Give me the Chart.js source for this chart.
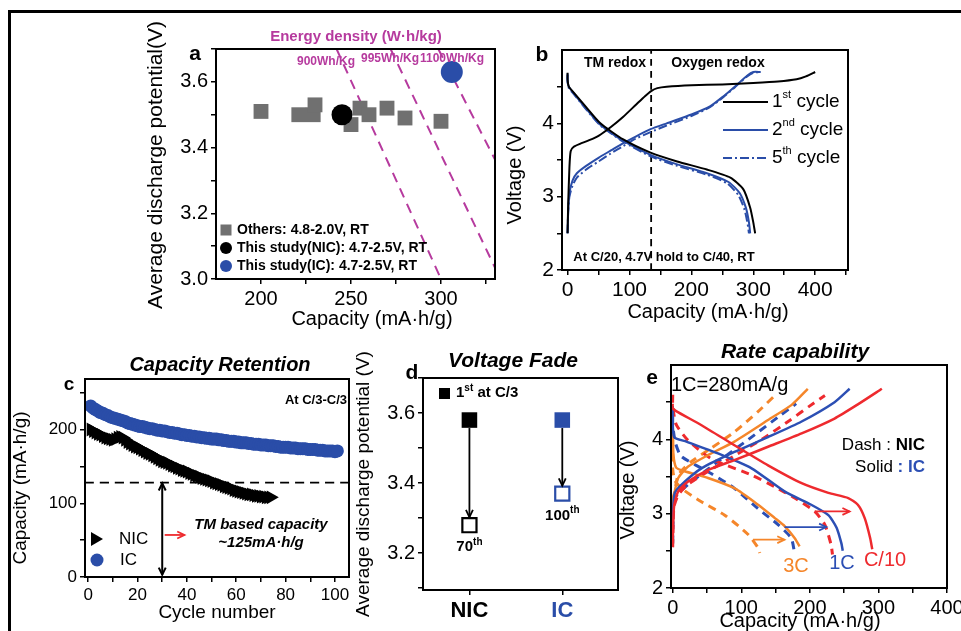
<!DOCTYPE html>
<html>
<head>
<meta charset="utf-8">
<script src="https://cdn.jsdelivr.net/npm/chart.js@4.4.0/dist/chart.umd.min.js"></script>
<style>
  body { margin: 0; background: #fff; width: 961px; height: 631px; overflow: hidden; position: relative; }
  canvas { position: absolute; left: 0; top: 0; }
  #frame { position: absolute; left: 8px; top: 10px; width: 960px; height: 630px; border-left: 3px solid #000; border-top: 3px solid #000; }
</style>
</head>
<body>
<div id="frame"></div>
<canvas id="ca" width="961" height="631"></canvas>
<canvas id="cb" width="961" height="631"></canvas>
<canvas id="cc" width="961" height="631"></canvas>
<canvas id="cd" width="961" height="631"></canvas>
<canvas id="ce" width="961" height="631"></canvas>
<script>
const FONT = "'Liberation Sans', Arial, Helvetica, sans-serif";
const BLUE = '#2A4DA8';
const GRAY = '#707070';
const MAGENTA = '#B63A9E';
const RED = '#EE2A2E';
const ORANGE = '#F5862A';
const EBLUE = '#2C4FB4';

// ---- panel a : average discharge potential vs capacity ----
const othersCap = [200, 221, 229, 230, 250, 255, 260, 270, 280, 300];
const othersV = [3.51, 3.50, 3.50, 3.53, 3.47, 3.52, 3.50, 3.52, 3.49, 3.48];
const nicCapA = [245];
const nicVA = [3.50];
const icCapA = [306];
const icVA = [3.63];
const ed900Cap = [242, 300];
const ed900V = [3.70, 3.00];
const ed995Cap = [272, 333];
const ed995V = [3.70, 3.00];
const ed1100Cap = [298.5, 364];
const ed1100V = [3.70, 3.00];
const aXTicks = [200, 225, 250, 275, 300, 325];
const aXMajor = [200, 250, 300];
const aYTicks = [3.0, 3.1, 3.2, 3.3, 3.4, 3.5, 3.6, 3.7];
const aYMajor = [3.0, 3.2, 3.4, 3.6];

// ---- panel b : voltage profiles ----
const b1ChCap = [0, 1, 3, 5, 10, 20, 35, 50, 70, 90, 110, 125, 135, 145, 160, 200, 250, 300, 340, 370, 385, 400];
const b1ChV = [2.5, 2.9, 3.4, 3.62, 3.68, 3.72, 3.77, 3.83, 3.95, 4.09, 4.25, 4.37, 4.44, 4.48, 4.50, 4.52, 4.53, 4.55, 4.57, 4.6, 4.64, 4.7];
const b1DisCap = [0, 0, 2, 10, 30, 53, 90, 134, 177, 225, 263, 284, 295, 300, 303];
const b1DisV = [4.69, 4.6, 4.5, 4.42, 4.22, 4.0, 3.78, 3.6, 3.48, 3.37, 3.26, 3.1, 2.85, 2.65, 2.5];
const b2ChCap = [0, 1, 3, 8, 15, 30, 50, 70, 90, 110, 134, 160, 200, 230, 252, 270, 290, 300, 312];
const b2ChV = [2.5, 2.8, 3.05, 3.22, 3.32, 3.42, 3.53, 3.63, 3.73, 3.82, 3.92, 4.0, 4.12, 4.23, 4.37, 4.5, 4.65, 4.7, 4.7];
const b2DisCap = [0, 0, 2, 10, 30, 53, 90, 134, 177, 225, 260, 278, 288, 293, 295];
const b2DisV = [4.68, 4.58, 4.5, 4.41, 4.2, 3.98, 3.76, 3.57, 3.44, 3.32, 3.2, 3.05, 2.85, 2.65, 2.5];
const b5ChCap = [0, 1, 3, 8, 15, 30, 50, 70, 90, 110, 134, 160, 200, 230, 252, 270, 290, 300, 310];
const b5ChV = [2.5, 2.8, 3.0, 3.15, 3.26, 3.37, 3.48, 3.59, 3.69, 3.79, 3.88, 3.97, 4.1, 4.22, 4.36, 4.49, 4.64, 4.69, 4.7];
const b5DisCap = [0, 0, 2, 10, 30, 53, 90, 134, 177, 225, 258, 276, 286, 291, 293];
const b5DisV = [4.66, 4.56, 4.48, 4.40, 4.19, 3.97, 3.75, 3.55, 3.42, 3.30, 3.18, 3.02, 2.82, 2.62, 2.5];
const bRedox = [135];
const bXTicks = [0, 50, 100, 150, 200, 250, 300, 350, 400, 450];
const bXMajor = [0, 100, 200, 300, 400];
const bYTicks = [2, 2.5, 3, 3.5, 4, 4.5];
const bYMajor = [2, 3, 4];

// ---- panel c : capacity retention ----
const icCap = [232, 229, 227, 225, 223, 222, 220, 219, 217, 216,
  215, 214, 213, 212, 211, 209, 208, 207, 206, 205,
  204, 204, 203, 202, 201, 201, 200, 199, 199, 198,
  198, 197, 196, 196, 195, 195, 194, 193, 193, 192,
  192, 191, 191, 190, 190, 189, 189, 188, 188, 187,
  187, 187, 186, 186, 185, 185, 184, 184, 184, 183,
  183, 182, 182, 182, 181, 181, 180, 180, 180, 179,
  179, 179, 178, 178, 178, 177, 177, 176, 176, 176,
  176, 175, 175, 175, 174, 174, 174, 174, 173, 173,
  173, 173, 172, 172, 172, 171, 171, 171, 171, 170, 171];
const nicCap = [200, 198, 196, 194, 193, 191, 189, 188, 187, 186,
  187, 189, 190, 189, 186, 183, 181, 179, 177, 176,
  174, 172, 170, 168, 167, 165, 163, 161, 159, 157,
  156, 155, 153, 151, 150, 148, 147, 145, 144, 143,
  141, 140, 138, 137, 136, 134, 133, 132, 131, 130,
  128, 127, 126, 125, 123, 122, 121, 120, 118, 117,
  116, 115, 114, 113, 112, 112, 111, 110, 110, 109,
  109, 108, 108, 108];
const tmCapacity = 128;
const cXTicks = [0, 10, 20, 30, 40, 50, 60, 70, 80, 90, 100];
const cXMajor = [0, 20, 40, 60, 80, 100];
const cYTicks = [0, 50, 100, 150, 200, 250];
const cYMajor = [0, 100, 200];

// ---- panel d : voltage fade ----
const dCats = ['NIC', 'IC'];
const dFirst = [3.58, 3.58];
const dLast = [3.28, 3.37];
const dLastLabel = ['70', '100'];
const dYTicks = [3.1, 3.2, 3.3, 3.4, 3.5, 3.6, 3.7];
const dYMajor = [3.2, 3.4, 3.6];

// ---- panel e : rate capability ----
const eC10ICChCap = [0, 0.5, 2, 8, 22, 52, 90, 139, 188, 236, 270, 305];
const eC10ICChV = [2.55, 2.8, 3.1, 3.3, 3.43, 3.59, 3.72, 3.90, 4.08, 4.28, 4.47, 4.68];
const eC10ICDisCap = [0, 0, 5, 42, 90, 139, 188, 227, 256, 270, 280, 288, 291];
const eC10ICDisV = [4.48, 4.42, 4.38, 4.19, 3.92, 3.65, 3.41, 3.28, 3.21, 3.12, 2.94, 2.67, 2.52];
const eC10NICChCap = [0, 0.5, 2, 8, 20, 50, 90, 130, 170, 200, 222];
const eC10NICChV = [2.55, 2.85, 3.1, 3.25, 3.38, 3.56, 3.78, 4.0, 4.25, 4.45, 4.59];
const eC10NICDisCap = [0, 0, 5, 22, 56, 115, 149, 178, 207, 222, 231, 233];
const eC10NICDisV = [4.6, 4.45, 4.2, 3.99, 3.74, 3.52, 3.36, 3.21, 3.03, 2.85, 2.58, 2.45];
const e1ICChCap = [0, 0.5, 3, 17.5, 42, 90, 139, 188, 236, 258];
const e1ICChV = [2.6, 3.0, 3.28, 3.43, 3.61, 3.83, 4.03, 4.24, 4.5, 4.68];
const e1ICDisCap = [0, 0, 2, 20, 66, 115, 163, 202, 227, 239, 246, 248];
const e1ICDisV = [4.45, 4.3, 4.03, 3.97, 3.81, 3.61, 3.30, 3.12, 2.98, 2.81, 2.6, 2.5];
const e1NICChCap = [0, 0.5, 3, 22, 66, 115, 158, 180];
const e1NICChV = [2.6, 2.9, 3.21, 3.39, 3.70, 4.03, 4.33, 4.48];
const e1NICDisCap = [0, 0, 4, 12.6, 56, 90, 124, 154, 173, 178];
const e1NICDisV = [4.3, 4.19, 3.95, 3.77, 3.54, 3.34, 3.07, 2.85, 2.67, 2.45];
const e3ICChCap = [0, 0.5, 3, 8, 22, 52, 90, 139, 173, 197];
const e3ICChV = [2.9, 3.15, 3.3, 3.48, 3.63, 3.79, 3.97, 4.26, 4.46, 4.68];
const e3ICDisCap = [0, 0, 1, 5, 17.5, 51.5, 90.5, 124.5, 149, 163.5, 178, 185];
const e3ICDisV = [4.4, 4.2, 3.8, 3.62, 3.57, 3.48, 3.34, 3.12, 2.94, 2.83, 2.67, 2.56];
const e3NICChCap = [0, 0.5, 3, 8, 27, 56, 90, 124, 149];
const e3NICChV = [3.0, 3.2, 3.3, 3.52, 3.70, 3.88, 4.10, 4.37, 4.59];
const e3NICDisCap = [0, 0, 3, 12.6, 41.8, 75.9, 110, 124.5, 127];
const e3NICDisV = [4.0, 3.6, 3.45, 3.34, 3.16, 2.98, 2.72, 2.54, 2.47];
const eXTicks = [0, 50, 100, 150, 200, 250, 300, 350, 400];
const eXMajor = [0, 100, 200, 300, 400];
const eYTicks = [2, 2.5, 3, 3.5, 4, 4.5];
const eYMajor = [2, 3, 4];

// ---------- helpers ----------
function pts(xs, ys) { return xs.map((x, i) => ({ x, y: ys[i] })); }

function scale(pos, min, max, ticks, majors, fmt, size, box, extra) {
  return Object.assign({
    type: 'linear', position: pos, min, max,
    afterBuildTicks: s => { s.ticks = ticks.map(v => ({ value: v })); },
    afterFit: s => {
      if (pos === 'bottom') { s.height = box; s.paddingLeft = 0; s.paddingRight = 0; }
      else { s.width = box; s.paddingTop = 0; s.paddingBottom = 0; }
    },
    grid: { drawOnChartArea: false, tickLength: 5, tickColor: '#000', lineWidth: 1.5 },
    border: { display: false },
    ticks: { autoSkip: false, maxRotation: 0, color: '#000', padding: 3,
      font: { family: FONT, size: size },
      callback: v => majors.includes(v) ? fmt(v) : '' }
  }, extra || {});
}

function line(data, color, width, dash) {
  return { data, showLine: true, borderColor: color, borderWidth: width, borderDash: dash || [],
    pointRadius: 0, fill: false, tension: 0.2 };
}

function txt(ctx, s, x, y, font, color, align, rot) {
  ctx.save();
  ctx.translate(x, y);
  if (rot) ctx.rotate(rot);
  ctx.font = font; ctx.fillStyle = color || '#000';
  ctx.textAlign = align || 'center'; ctx.textBaseline = 'middle';
  ctx.fillText(s, 0, 0);
  ctx.restore();
}

function runs(ctx, parts, x, y, align) {
  let w = 0;
  parts.forEach(p => { ctx.font = p[1]; w += ctx.measureText(p[0]).width; });
  let cx = align === 'right' ? x - w : align === 'center' ? x - w / 2 : x;
  ctx.save();
  ctx.textBaseline = 'middle'; ctx.textAlign = 'left';
  parts.forEach(p => {
    ctx.font = p[1]; ctx.fillStyle = p[2] || '#000';
    ctx.fillText(p[0], cx, y + (p[3] || 0));
    cx += ctx.measureText(p[0]).width;
  });
  ctx.restore();
}

function arrow(ctx, x0, y0, x1, y1, color, width, both) {
  const head = (xa, ya, xb, yb) => {
    const ang = Math.atan2(yb - ya, xb - xa), L = 8;
    ctx.beginPath();
    ctx.moveTo(xb - L * Math.cos(ang - 0.45), yb - L * Math.sin(ang - 0.45));
    ctx.lineTo(xb, yb);
    ctx.lineTo(xb - L * Math.cos(ang + 0.45), yb - L * Math.sin(ang + 0.45));
    ctx.stroke();
  };
  ctx.save();
  ctx.strokeStyle = color; ctx.lineWidth = width;
  ctx.beginPath(); ctx.moveTo(x0, y0); ctx.lineTo(x1, y1); ctx.stroke();
  head(x0, y0, x1, y1);
  if (both) head(x1, y1, x0, y0);
  ctx.restore();
}

function frame(chart) {
  const { ctx, chartArea: a } = chart;
  ctx.save();
  ctx.strokeStyle = '#000'; ctx.lineWidth = 2;
  ctx.strokeRect(a.left, a.top, a.right - a.left, a.bottom - a.top);
  ctx.restore();
}

function makeChart(id, pad, xs, ys, datasets, draw) {
  return new Chart(document.getElementById(id), {
    type: 'scatter',
    data: { datasets },
    options: {
      responsive: false, animation: false, devicePixelRatio: 1,
      layout: { padding: pad },
      plugins: { legend: { display: false }, tooltip: { enabled: false } },
      scales: { x: xs, y: ys }
    },
    plugins: [{ id: 'deco', afterDatasetsDraw: chart => { frame(chart); draw(chart, chart.ctx); } }]
  });
}

const B = w => 'bold ' + w + 'px ' + FONT;
const BI = w => 'italic bold ' + w + 'px ' + FONT;
const R = w => w + 'px ' + FONT;
const UP = -Math.PI / 2;

// ---------- panel a ----------
makeChart('ca', { left: 156, top: 49, right: 466, bottom: 318 },
  scale('bottom', 175, 330, aXTicks, aXMajor, v => String(v), 20, 34),
  scale('left', 3.0, 3.7, aYTicks, aYMajor, v => v.toFixed(1), 20, 60),
  [
    { data: pts(icCapA, icVA), pointStyle: 'circle', pointRadius: 11, backgroundColor: BLUE, borderWidth: 0 },
    { data: pts(nicCapA, nicVA), pointStyle: 'circle', pointRadius: 10.5, backgroundColor: '#000', borderWidth: 0 },
    { data: pts(othersCap, othersV), pointStyle: 'rect', pointRadius: 10.5, backgroundColor: GRAY, borderWidth: 0 },
    line(pts(ed900Cap, ed900V), MAGENTA, 2, [10, 7]),
    line(pts(ed995Cap, ed995V), MAGENTA, 2, [10, 7]),
    line(pts(ed1100Cap, ed1100V), MAGENTA, 2, [10, 7])
  ],
  (chart, ctx) => {
    txt(ctx, 'a', 195, 54, B(21));
    txt(ctx, 'Energy density (W\u00b7h/kg)', 356, 37, B(15), MAGENTA);
    txt(ctx, '900Wh/Kg', 326, 62, B(12), MAGENTA);
    txt(ctx, '995Wh/Kg', 390, 59, B(12), MAGENTA);
    txt(ctx, '1100Wh/Kg', 452, 59, B(12), MAGENTA);
    ctx.fillStyle = GRAY; ctx.fillRect(220.5, 224.5, 11, 11);
    ctx.fillStyle = '#000'; ctx.beginPath(); ctx.arc(226, 248, 6, 0, 2 * Math.PI); ctx.fill();
    ctx.fillStyle = BLUE; ctx.beginPath(); ctx.arc(226, 266, 6, 0, 2 * Math.PI); ctx.fill();
    txt(ctx, 'Others: 4.8-2.0V, RT', 237, 230, B(14), '#000', 'left');
    txt(ctx, 'This study(NIC): 4.7-2.5V, RT', 237, 248, B(14), '#000', 'left');
    txt(ctx, 'This study(IC): 4.7-2.5V, RT', 237, 266, B(14), '#000', 'left');
    txt(ctx, 'Average discharge potential(V)', 156, 165, R(21), '#000', 'center', UP);
    txt(ctx, 'Capacity (mA\u00b7h/g)', 372, 319, R(20));
  });

// ---------- panel b ----------
makeChart('cb', { left: 502, top: 50, right: 113, bottom: 327 },
  scale('bottom', -9, 453, bXTicks, bXMajor, v => String(v), 21, 34),
  scale('left', 2, 5, bYTicks, bYMajor, v => String(v), 21, 60),
  [
    line(pts(b1ChCap, b1ChV), '#000', 2),
    line(pts(b1DisCap, b1DisV), '#000', 2),
    line(pts(b5ChCap, b5ChV), BLUE, 2, [9, 3, 2, 3]),
    line(pts(b5DisCap, b5DisV), BLUE, 2, [9, 3, 2, 3]),
    line(pts(b2ChCap, b2ChV), BLUE, 2),
    line(pts(b2DisCap, b2DisV), BLUE, 2),
    line(pts([bRedox[0], bRedox[0]], [2, 5]), '#000', 1.8, [7, 5])
  ],
  (chart, ctx) => {
    txt(ctx, 'b', 542, 55, B(21));
    txt(ctx, 'TM redox', 615, 63, B(14));
    txt(ctx, 'Oxygen redox', 718, 63, B(14));
    txt(ctx, 'At C/20, 4.7V hold to C/40, RT', 664, 257, B(13));
    const ly = [102, 130, 158], lc = ['#000', BLUE, BLUE], ld = [[], [], [9, 3, 2, 3]];
    const sup = ['st', 'nd', 'th'], num = ['1', '2', '5'];
    ly.forEach((y, i) => {
      ctx.save(); ctx.strokeStyle = lc[i]; ctx.lineWidth = 2.2; ctx.setLineDash(ld[i]);
      ctx.beginPath(); ctx.moveTo(723, y); ctx.lineTo(768, y); ctx.stroke(); ctx.restore();
      runs(ctx, [[num[i], R(19)], [sup[i], R(11), '#000', -7], [' cycle', R(19)]], 772, y, 'left');
    });
    txt(ctx, 'Voltage (V)', 515, 175, R(20), '#000', 'center', UP);
    txt(ctx, 'Capacity (mA\u00b7h/g)', 708, 312, R(20));
  });

// ---------- panel c ----------
makeChart('cc', { left: 25, top: 379, right: 612, bottom: 20 },
  scale('bottom', -1.3, 105.7, cXTicks, cXMajor, v => String(v), 17, 34),
  scale('left', 0, 268.5, cYTicks, cYMajor, v => String(v), 17, 60),
  [
    { data: pts(nicCap.map((v, i) => i + 1), nicCap), pointStyle: 'triangle', rotation: 90, pointRadius: 8, backgroundColor: '#000', borderWidth: 0 },
    { data: pts(icCap.map((v, i) => i + 1), icCap), pointStyle: 'circle', pointRadius: 6.5, backgroundColor: BLUE, borderWidth: 0 },
    line(pts([-1.3, 105.7], [tmCapacity, tmCapacity]), '#000', 1.8, [9, 6])
  ],
  (chart, ctx) => {
    const x = chart.scales.x, y = chart.scales.y;
    txt(ctx, 'Capacity Retention', 220, 365, BI(20));
    txt(ctx, 'c', 69, 385, B(19));
    txt(ctx, 'At C/3-C/3', 347, 400, B(13), '#000', 'right');
    arrow(ctx, x.getPixelForValue(30), y.getPixelForValue(tmCapacity - 1), x.getPixelForValue(30), y.getPixelForValue(3), '#000', 2, true);
    arrow(ctx, x.getPixelForValue(31), y.getPixelForValue(57), x.getPixelForValue(39), y.getPixelForValue(57), RED, 1.8);
    txt(ctx, 'TM based capacity', 261, 525, BI(15));
    txt(ctx, '~125mA\u00b7h/g', 261, 543, BI(15));
    ctx.save(); ctx.fillStyle = '#000'; ctx.beginPath();
    ctx.moveTo(91, 532); ctx.lineTo(103, 539); ctx.lineTo(91, 546); ctx.closePath(); ctx.fill();
    ctx.fillStyle = BLUE; ctx.beginPath(); ctx.arc(97, 560, 6.5, 0, 2 * Math.PI); ctx.fill(); ctx.restore();
    txt(ctx, 'NIC', 119, 539, R(17), '#000', 'left');
    txt(ctx, 'IC', 120, 560, R(17), '#000', 'left');
    txt(ctx, 'Capacity (mA\u00b7h/g)', 21, 488, R(19), '#000', 'center', UP);
    txt(ctx, 'Cycle number', 217, 613, R(19));
  });

// ---------- panel d ----------
makeChart('cd', { left: 363, top: 378, right: 343, bottom: 7 },
  scale('bottom', -0.5, 1.6, [0, 1], [0, 1], v => dCats[v], 22, 34,
    { ticks: { autoSkip: false, maxRotation: 0, padding: 3, font: { family: FONT, size: 22, weight: 'bold' },
      color: c => (c.tick && c.tick.value === 1) ? BLUE : '#000', callback: v => dCats[v] } }),
  scale('left', 3.095, 3.7, dYTicks, dYMajor, v => v.toFixed(1), 20, 60),
  [
    { data: pts([0], [dFirst[0]]), pointStyle: 'rect', pointRadius: 11, backgroundColor: '#000', borderWidth: 0 },
    { data: pts([1], [dFirst[1]]), pointStyle: 'rect', pointRadius: 11, backgroundColor: BLUE, borderWidth: 0 },
    { data: pts([0], [dLast[0]]), pointStyle: 'rect', pointRadius: 10, backgroundColor: '#fff', borderColor: '#000', borderWidth: 2.2 },
    { data: pts([1], [dLast[1]]), pointStyle: 'rect', pointRadius: 10, backgroundColor: '#fff', borderColor: BLUE, borderWidth: 2.2 }
  ],
  (chart, ctx) => {
    const x = chart.scales.x, y = chart.scales.y;
    [0, 1].forEach(i => {
      const px = x.getPixelForValue(i);
      arrow(ctx, px, y.getPixelForValue(dFirst[i]) + 8, px, y.getPixelForValue(dLast[i]) - 8, '#000', 1.8);
      runs(ctx, [[dLastLabel[i], B(15)], ['th', B(10), '#000', -5]], px, y.getPixelForValue(dLast[i]) + 22, 'center');
    });
    txt(ctx, 'Voltage Fade', 513, 361, BI(21));
    txt(ctx, 'd', 412, 373, B(21));
    ctx.fillStyle = '#000'; ctx.fillRect(439, 388, 11, 11);
    runs(ctx, [['1', B(15)], ['st', B(10), '#000', -5], [' at C/3', B(15)]], 456, 393, 'left');
    txt(ctx, 'Average discharge potential (V)', 364, 484, R(19), '#000', 'center', UP);
  });

// ---------- panel e ----------
makeChart('ce', { left: 611, top: 365, right: 14, bottom: 9 },
  scale('bottom', -2.5, 400, eXTicks, eXMajor, v => String(v), 20, 34),
  scale('left', 2, 5, eYTicks, eYMajor, v => String(v), 20, 60),
  [
    line(pts(eC10ICChCap, eC10ICChV), RED, 2.5),
    line(pts(eC10ICDisCap, eC10ICDisV), RED, 2.5),
    line(pts(e1ICChCap, e1ICChV), EBLUE, 2.5),
    line(pts(e1ICDisCap, e1ICDisV), EBLUE, 2.5),
    line(pts(e3ICChCap, e3ICChV), ORANGE, 2.5),
    line(pts(e3ICDisCap, e3ICDisV), ORANGE, 2.5),
    line(pts(eC10NICChCap, eC10NICChV), RED, 3, [8, 6]),
    line(pts(eC10NICDisCap, eC10NICDisV), RED, 3, [8, 6]),
    line(pts(e1NICChCap, e1NICChV), EBLUE, 3, [8, 6]),
    line(pts(e1NICDisCap, e1NICDisV), EBLUE, 3, [8, 6]),
    line(pts(e3NICChCap, e3NICChV), ORANGE, 3, [8, 6]),
    line(pts(e3NICDisCap, e3NICDisV), ORANGE, 3, [8, 6])
  ],
  (chart, ctx) => {
    const x = chart.scales.x, y = chart.scales.y;
    arrow(ctx, x.getPixelForValue(207), y.getPixelForValue(3.03), x.getPixelForValue(258), y.getPixelForValue(3.03), RED, 1.8);
    arrow(ctx, x.getPixelForValue(163), y.getPixelForValue(2.82), x.getPixelForValue(224), y.getPixelForValue(2.82), EBLUE, 1.8);
    arrow(ctx, x.getPixelForValue(117), y.getPixelForValue(2.65), x.getPixelForValue(163), y.getPixelForValue(2.65), ORANGE, 1.8);
    txt(ctx, 'Rate capability', 795, 352, BI(21));
    txt(ctx, 'e', 652, 378, B(21));
    txt(ctx, '1C=280mA/g', 671, 385, R(20), '#000', 'left');
    runs(ctx, [['Dash : ', R(17)], ['NIC', B(17)]], 925, 445, 'right');
    runs(ctx, [['Solid ', R(17)], [': IC', B(17), EBLUE]], 925, 467, 'right');
    txt(ctx, '3C', 796, 566, R(20), ORANGE);
    txt(ctx, '1C', 842, 563, R(20), EBLUE);
    txt(ctx, 'C/10', 885, 560, R(20), RED);
    txt(ctx, 'Voltage (V)', 628, 490, R(20), '#000', 'center', UP);
    txt(ctx, 'Capacity (mA\u00b7h/g)', 800, 621, R(20));
  });
</script>
</body>
</html>
